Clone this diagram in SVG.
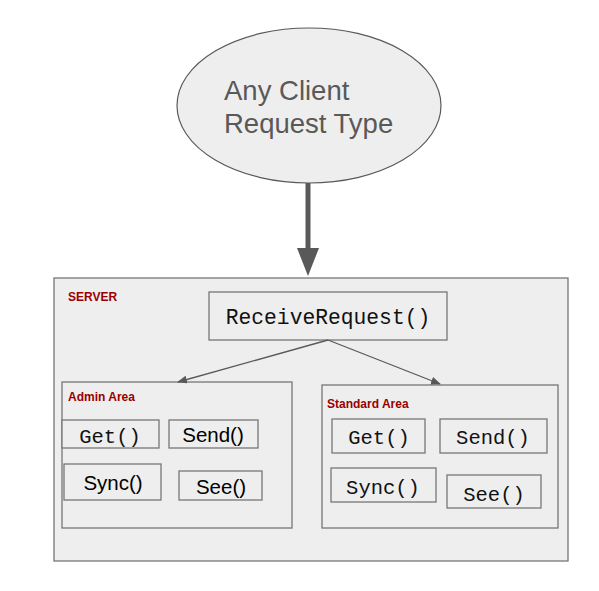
<svg xmlns="http://www.w3.org/2000/svg" width="599" height="591" viewBox="0 0 599 591">
<style>
.box{fill:#eeeeee;stroke:#777777;stroke-width:1.3}
.lbl{font-family:"Liberation Sans",Arial,sans-serif;font-weight:bold;font-size:12px;fill:#990000}
.mono{font-family:"Liberation Mono","Courier New",monospace;font-size:20.5px;fill:#111;text-anchor:middle}
.sans{font-family:"Liberation Sans",Arial,sans-serif;font-size:20.5px;fill:#000;text-anchor:middle}
.conn{stroke:#595959;fill:none}
</style>
<defs>
<marker id="ah" markerWidth="10" markerHeight="8" refX="9" refY="4" orient="auto" markerUnits="userSpaceOnUse">
<path d="M0,0 L10,4 L0,8 Z" fill="#595959"/>
</marker>
</defs>
<rect width="599" height="591" fill="#ffffff"/>
<g id="server">
<rect class="box" x="54" y="278" width="514" height="283"/>
<text class="lbl" x="68" y="301">SERVER</text>
</g>
<g id="client">
<ellipse cx="309" cy="105.5" rx="132" ry="77.5" fill="#eeeeee" stroke="#595959" stroke-width="1.2"/>
<text x="224" y="100" font-family="'Liberation Sans',Arial,sans-serif" font-size="27.5" fill="#595959">Any Client</text>
<text x="224" y="133" font-family="'Liberation Sans',Arial,sans-serif" font-size="27.5" fill="#595959">Request Type</text>
</g>
<g id="receive">
<rect class="box" x="209" y="292" width="238" height="48"/>
<text class="mono" x="328" y="324" style="font-size:21.3px">ReceiveRequest()</text>
</g>
<g id="admin">
<rect class="box" x="62" y="382" width="230" height="146"/>
<text class="lbl" x="68" y="401">Admin Area</text>
</g>
<g id="admin-get"><rect class="box" x="62" y="420" width="97" height="28"/><text class="mono" x="110" y="443">Get()</text></g>
<g id="admin-send"><rect class="box" x="169" y="420" width="89" height="28"/><text class="sans" x="213" y="442">Send()</text></g>
<g id="admin-sync"><rect class="box" x="64" y="464" width="97" height="36"/><text class="sans" x="113" y="490">Sync()</text></g>
<g id="admin-see"><rect class="box" x="179" y="471" width="83" height="29"/><text class="sans" x="221" y="494">See()</text></g>
<g id="standard">
<rect class="box" x="322" y="385" width="236" height="143"/>
<text class="lbl" x="327" y="408">Standard Area</text>
</g>
<g id="std-get"><rect class="box" x="332" y="419" width="93" height="34"/><text class="mono" x="379" y="444">Get()</text></g>
<g id="std-send"><rect class="box" x="440" y="419" width="107" height="34"/><text class="mono" x="493" y="444">Send()</text></g>
<g id="std-sync"><rect class="box" x="331" y="468" width="105" height="34"/><text class="mono" x="383" y="494">Sync()</text></g>
<g id="std-see"><rect class="box" x="447" y="475" width="94" height="33"/><text class="mono" x="494" y="501">See()</text></g>
<g id="connectors">
<line x1="308" y1="183" x2="308" y2="250" stroke="#595959" stroke-width="5"/>
<path d="M297,248 L319,248 L308,276 Z" fill="#595959"/>
<line class="conn" x1="328" y1="340" x2="178" y2="382" stroke-width="1.3" marker-end="url(#ah)"/>
<line class="conn" x1="328" y1="340" x2="440" y2="384" stroke-width="1.3" marker-end="url(#ah)"/>
</g>
</svg>
